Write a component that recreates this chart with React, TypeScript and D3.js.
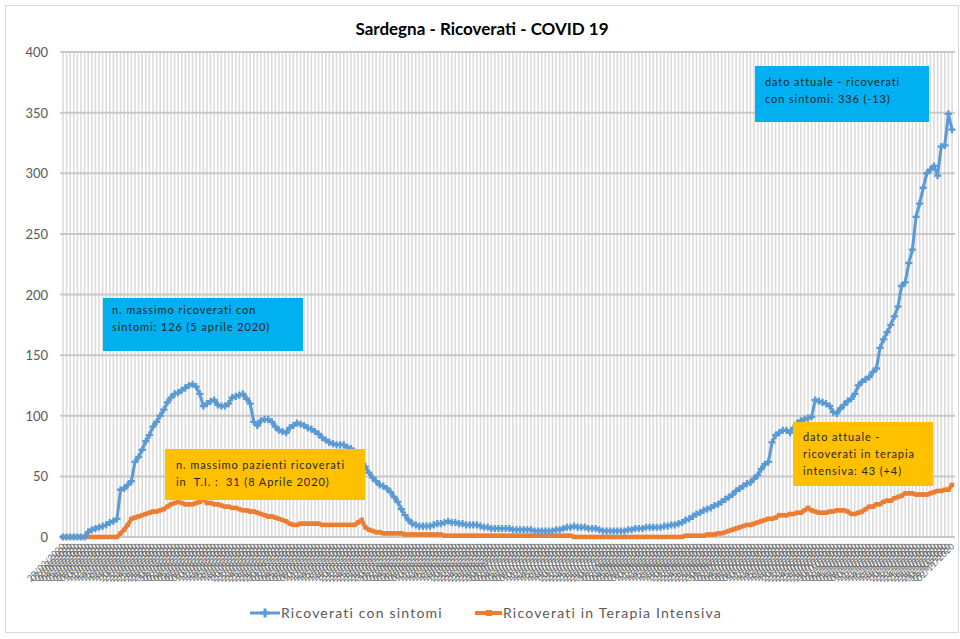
import * as d3 from "d3";

// giorni: dal 29/02/2020, un punto al giorno
const startDate = new Date(2020, 1, 29);

const ricoveratiSintomi = [
  0, 0, 0, 0, 0, 0, 0, 4, 6, 7,
  8, 9, 10, 12, 13, 15, 39, 40, 43, 46,
  62, 66, 72, 79, 84, 91, 95, 100, 105, 111,
  115, 118, 119, 121, 123, 125, 126, 124, 118, 108,
  110, 112, 113, 109, 108, 108, 110, 115, 116, 117,
  118, 114, 110, 95, 92, 96, 97, 97, 95, 91,
  88, 87, 86, 90, 92, 94, 93, 92, 90, 89,
  87, 85, 82, 80, 78, 77, 76, 76, 76, 74,
  73, 70, 67, 62, 58, 53, 49, 46, 43, 42,
  40, 37, 33, 29, 23, 18, 14, 11, 10, 9,
  9, 9, 9, 10, 11, 11, 12, 13, 12, 12,
  11, 11, 10, 10, 10, 10, 9, 8, 8, 7,
  7, 7, 7, 7, 7, 6, 6, 6, 6, 6,
  6, 5, 5, 5, 5, 5, 5, 6, 6, 7,
  8, 8, 9, 8, 8, 8, 7, 7, 7, 6,
  5, 5, 5, 5, 5, 5, 5, 6, 6, 7,
  7, 7, 8, 8, 8, 8, 8, 9, 9, 10,
  10, 11, 12, 14, 15, 17, 19, 20, 22, 23,
  24, 26, 27, 29, 31, 33, 35, 38, 40, 42,
  44, 45, 48, 51, 56, 60, 62, 78, 84, 86,
  88, 88, 86, 90, 94, 96, 97, 98, 99, 113,
  112, 111, 110, 108, 103, 102, 106, 109, 112, 114,
  118, 125, 128, 130, 132, 136, 139, 156, 163, 169,
  175, 182, 190, 207, 210, 226, 237, 264, 275, 288,
  300, 303, 306, 298, 322, 323, 349, 336,
];

const terapiaIntensiva = [
  0, 0, 0, 0, 0, 0, 0, 0, 0, 0,
  0, 0, 0, 0, 0, 0, 3, 6, 10, 15,
  16, 17, 18, 19, 20, 21, 21, 22, 23, 25,
  27, 28, 29, 28, 27, 27, 27, 28, 29, 31,
  28, 28, 27, 27, 26, 25, 25, 24, 24, 23,
  22, 22, 21, 21, 20, 19, 18, 17, 17, 16,
  15, 14, 13, 11, 10, 10, 11, 11, 11, 11,
  11, 11, 10, 10, 10, 10, 10, 10, 10, 10,
  10, 10, 12, 14, 8, 6, 5, 4, 4, 3,
  3, 3, 3, 3, 3, 2, 2, 2, 2, 2,
  2, 2, 2, 2, 2, 2, 1, 1, 1, 1,
  1, 1, 1, 1, 1, 1, 1, 1, 1, 1,
  1, 1, 1, 1, 1, 1, 1, 1, 1, 1,
  1, 1, 1, 1, 1, 1, 1, 1, 1, 1,
  1, 1, 0, 0, 0, 0, 0, 0, 0, 0,
  0, 0, 0, 0, 0, 0, 0, 0, 0, 0,
  0, 0, 0, 0, 0, 0, 0, 0, 0, 0,
  0, 0, 0, 1, 1, 1, 1, 1, 1, 2,
  2, 2, 3, 3, 4, 5, 6, 7, 8, 9,
  10, 10, 11, 12, 13, 14, 15, 15, 16, 18,
  18, 18, 19, 19, 20, 20, 22, 24, 22, 21,
  20, 20, 20, 21, 21, 22, 22, 22, 21, 19,
  19, 20, 21, 23, 25, 25, 27, 27, 29, 30,
  30, 32, 33, 34, 36, 36, 36, 35, 35, 35,
  35, 36, 37, 38, 38, 39, 39, 43,
];

const yTicks = [0, 50, 100, 150, 200, 250, 300, 350, 400];

const dateLabels = ricoveratiSintomi.map((_, i) =>
  d3.timeFormat("%d/%m/%Y")(d3.timeDay.offset(startDate, i))
);

const BLUE = "#5B9BD5";
const ORANGE = "#ED7D31";
const FONT = "Lato, 'Open Sans', sans-serif";

export default function App() {
  const width = 960;
  const height = 639;
  const idx = d3.range(ricoveratiSintomi.length);

  const x = d3.scalePoint<number>().domain(idx).range([63, 952]);
  const y = d3.scaleLinear().domain([0, 400]).range([537, 52]);

  const line = d3
    .line<number>()
    .x((_, i) => x(i)!)
    .y((d) => y(d));

  const blueMarker = d3.symbol(d3.symbolCross, 28)();
  const orangeMarker = d3.symbol(d3.symbolSquare, 20)();

  const boxes = [
    { x: 103, y: 298, w: 200, h: 53, fill: "#00B0F0", lines: ["n. massimo ricoverati con", "sintomi: 126 (5 aprile 2020)"], tx: 112, ty: 314 },
    { x: 165, y: 449, w: 200, h: 51, fill: "#FFC000", lines: ["n. massimo pazienti ricoverati", "in  T.I. :  31 (8 Aprile 2020)"], tx: 176, ty: 469 },
    { x: 755, y: 66, w: 174, h: 56, fill: "#00B0F0", lines: ["dato attuale - ricoverati", "con sintomi: 336 (-13)"], tx: 765, ty: 86 },
    { x: 793, y: 422, w: 140, h: 64, fill: "#FFC000", lines: ["dato attuale -", "ricoverati in terapia", "intensiva: 43 (+4)"], tx: 803, ty: 441 },
  ];

  return (
    <svg
      width={width}
      height={height}
      style={{ position: "absolute", left: 0, top: 0, background: "#fff" }}
    >
      <rect x={5.5} y={5.5} width={953} height={627} fill="#fff" stroke="#d9d9d9" />
      <text
        x={482}
        y={35}
        textAnchor="middle"
        fontFamily={FONT}
        fontWeight="bold"
        fontSize={17}
        fill="#000"
      >
        Sardegna - Ricoverati - COVID 19
      </text>

      {/* griglia verticale */}
      <g stroke="#dcdcdc" strokeWidth={1.6}>
        {idx.map((i) => (
          <line key={i} x1={x(i)} x2={x(i)} y1={y(400)} y2={y(0)} />
        ))}
      </g>
      {/* griglia orizzontale */}
      <g stroke="#c8c8c8" strokeWidth={2}>
        {yTicks.map((t) => (
          <line key={t} x1={60} x2={955} y1={y(t)} y2={y(t)} />
        ))}
      </g>
      <g fontFamily={FONT} fontSize={13} fill="#595959" textAnchor="end">
        {yTicks.map((t) => (
          <text key={t} x={48} y={y(t) + 5}>
            {t}
          </text>
        ))}
      </g>
      <g fontFamily={FONT} fontSize={9} fill="#6b6b6b" textAnchor="end">
        {dateLabels.map((l, i) => (
          <text
            key={i}
            transform={`translate(${x(i)! + 3},${547}) rotate(-45)`}
          >
            {l}
          </text>
        ))}
      </g>

      {/* serie */}
      <path d={line(terapiaIntensiva) ?? ""} fill="none" stroke={ORANGE} strokeWidth={4} />
      <g fill={ORANGE}>
        {terapiaIntensiva.map((v, i) => (
          <path key={i} d={orangeMarker} transform={`translate(${x(i)},${y(v)})`} />
        ))}
      </g>
      <path d={line(ricoveratiSintomi) ?? ""} fill="none" stroke={BLUE} strokeWidth={3} />
      <g fill={BLUE}>
        {ricoveratiSintomi.map((v, i) => (
          <path key={i} d={blueMarker} transform={`translate(${x(i)},${y(v)})`} />
        ))}
      </g>

      {/* annotazioni */}
      {boxes.map((b, k) => (
        <g key={k}>
          <rect x={b.x} y={b.y} width={b.w} height={b.h} fill={b.fill} />
          {b.lines.map((l, j) => (
            <text
              key={j}
              x={b.tx}
              y={b.ty + j * 17}
              fontFamily={FONT}
              fontSize={11}
              letterSpacing={0.9}
              fill="#262626"
              style={{ whiteSpace: "pre" }}
            >
              {l}
            </text>
          ))}
        </g>
      ))}

      {/* legenda */}
      <g fontFamily={FONT} fontSize={14} fill="#595959" letterSpacing={1.2}>
        <line x1={250} x2={280} y1={613} y2={613} stroke={BLUE} strokeWidth={3} />
        <path d={d3.symbol(d3.symbolCross, 45)()!} fill={BLUE} transform="translate(265,613)" />
        <text x={281} y={618}>Ricoverati con sintomi</text>
        <line x1={475} x2={502} y1={613} y2={613} stroke={ORANGE} strokeWidth={4} />
        <path d={d3.symbol(d3.symbolSquare, 36)()!} fill={ORANGE} transform="translate(489,613)" />
        <text x={503} y={618}>Ricoverati in Terapia Intensiva</text>
      </g>
    </svg>
  );
}
